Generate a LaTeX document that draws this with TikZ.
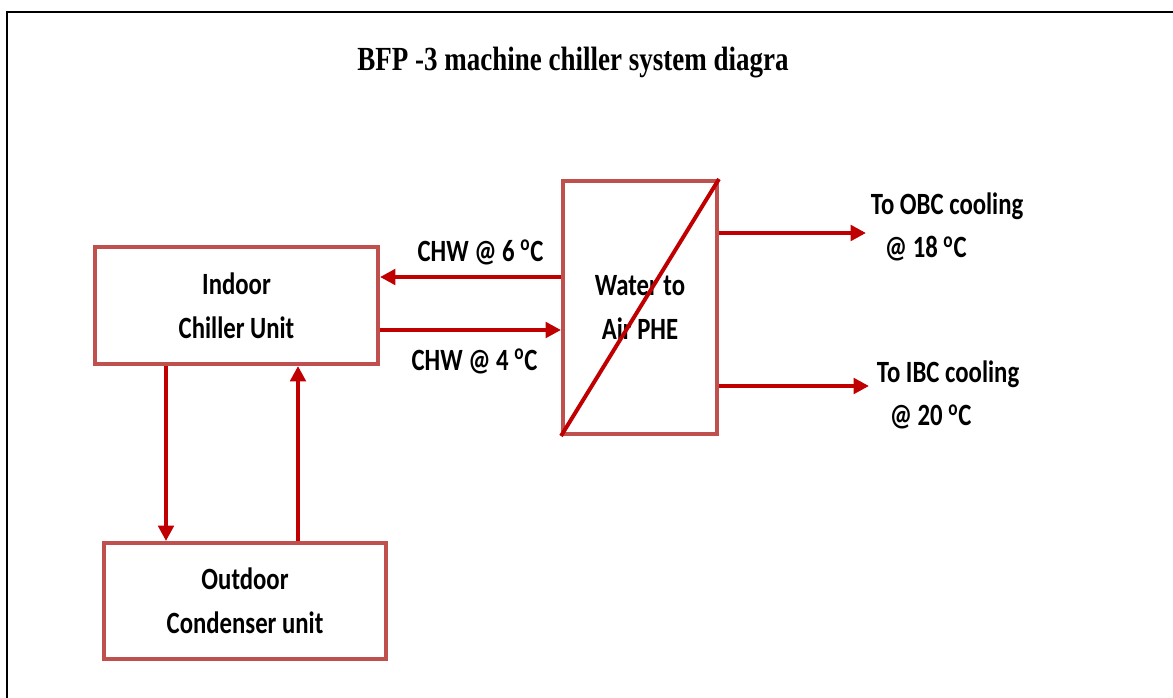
\documentclass[tikz,border=0pt]{standalone}
\usepackage{fontspec}
\usepackage{tikz}
\usetikzlibrary{arrows.meta,positioning,calc}
\setmainfont{Carlito}
\newfontfamily\lblfont[FakeStretch=0.8]{Carlito}
\newfontfamily\ttlfont[FakeStretch=0.8]{Liberation Serif}
\definecolor{boxred} {RGB}{192,80,77}
\definecolor{pipered}{RGB}{192,0,0}

\begin{document}
\begin{tikzpicture}[x=0.025cm, y=-0.025cm,
          unit/.style={rectangle,draw=boxred,line width=2.8pt,align=center,
                       font=\lblfont\bfseries\fontsize{22}{31}\selectfont},
          lbl/.style={text=black,font=\lblfont\bfseries\fontsize{22}{31}\selectfont},
          flow/.style={-{Triangle[length=11pt,width=11pt]},line width=2.8pt,pipered}
      ]
        \useasboundingbox (0,0) rectangle (1173,698);
        \draw[line width=1.5pt] (7,720) -- (7,12) -- (1190,12);
        \node[font=\ttlfont\bfseries\fontsize{24}{28}\selectfont] (title) at (573,63) {BFP -3 machine chiller system diagra};
        % units
        \node[unit,minimum width=7.075cm,minimum height=2.925cm] (indoor)  at (236.5,305.5) {Indoor\\Chiller Unit};
        \node[unit,minimum width=7.05cm,minimum height=2.9cm]    (outdoor) at (245,601)     {Outdoor\\Condenser unit};
        \node[unit,minimum width=3.85cm,minimum height=6.325cm]  (phe)     at (640,307.5)   {Water to\\Air PHE};
        \draw[line width=2.8pt,pipered] (phe.south west) -- (phe.north east);
        % chilled water loop
        \draw[flow] (phe.west |- 0,277) -- (indoor.east |- 0,277) node[lbl,midway,above=4pt,xshift=0.25cm] (chw6) {CHW @ 6 \textsuperscript{o}C};
        \draw[flow] (indoor.east |- 0,330) -- (phe.west |- 0,330) node[lbl,midway,below=9pt,xshift=0.1cm] (chw4) {CHW @ 4 \textsuperscript{o}C};
        \draw[flow] (indoor.south -| 166,0) -- (outdoor.north -| 166,0);
        \draw[flow] (outdoor.north -| 298,0) -- (indoor.south -| 298,0);
        % cooling outputs
        \coordinate (obc) at (866,233);
        \coordinate (ibc) at (869,386);
        \draw[flow] (phe.east |- obc) -- (obc);
        \draw[flow] (phe.east |- ibc) -- (ibc);
        \node[lbl,align=left,anchor=west] (obclbl) at (866,227) {To OBC cooling\\\hspace{0.35cm}@ 18 \textsuperscript{o}C};
        \node[lbl,align=left,anchor=west] (ibclbl) at (872,395) {To IBC cooling\\\hspace{0.32cm}@ 20 \textsuperscript{o}C};
      \end{tikzpicture}
\end{document}
